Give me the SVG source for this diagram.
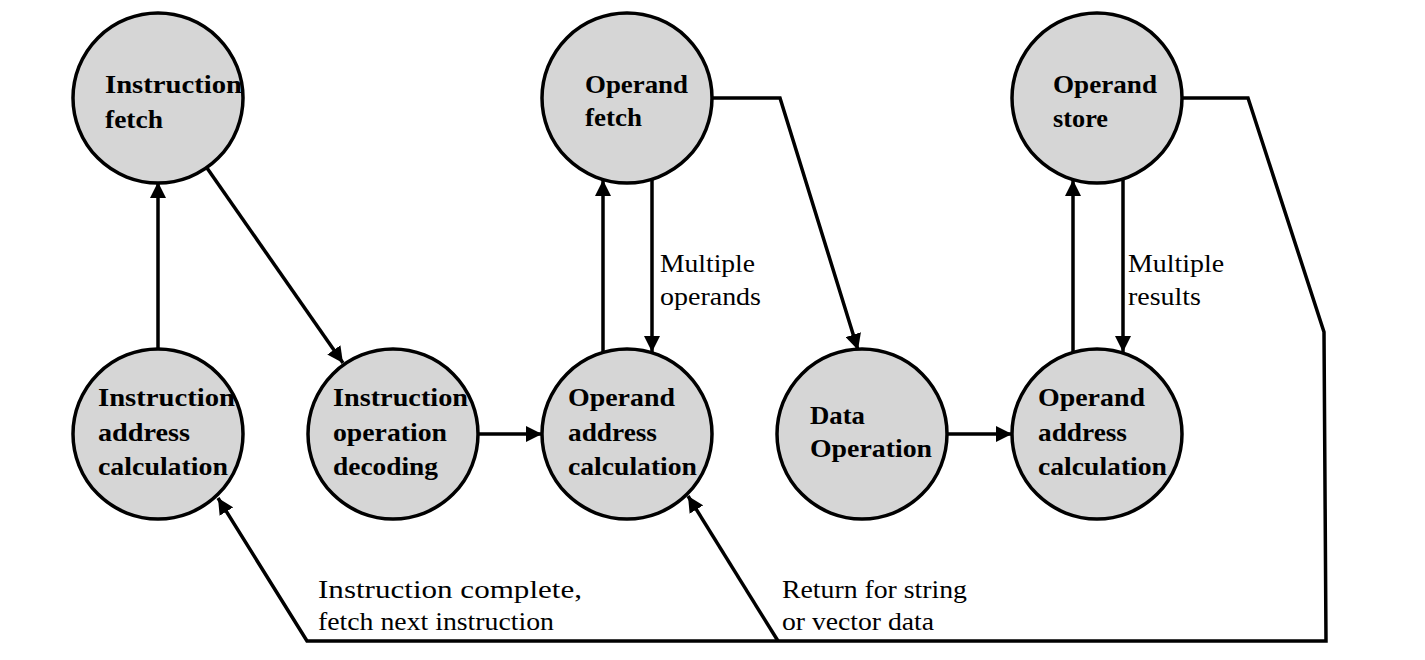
<svg xmlns="http://www.w3.org/2000/svg" width="1425" height="660" viewBox="0 0 1425 660">
<style>
.node circle{fill:#d6d6d6;stroke:#000;stroke-width:3.5}
.node text{font-family:"Liberation Serif",serif;font-weight:bold;font-size:26px;fill:#000}
.conn path{fill:none;stroke:#000;stroke-width:3.5;stroke-linejoin:miter}
.lbl{font-family:"Liberation Serif",serif;font-size:25px;fill:#000}
</style>
<defs>
<marker id="ah" markerUnits="userSpaceOnUse" markerWidth="16" markerHeight="16" refX="16" refY="8" orient="auto">
<path d="M0,0 L16,8 L0,16 z" fill="#000"/>
</marker>
</defs>
<rect width="1425" height="660" fill="#fff"/>
<g class="conn" id="connectors">
<path d="M158,350 L158,182" marker-end="url(#ah)"/>
<path d="M207,168 L343,363" marker-end="url(#ah)"/>
<path d="M478,434 L542,434" marker-end="url(#ah)"/>
<path d="M603,352 L603,180" marker-end="url(#ah)"/>
<path d="M652,180 L652,352" marker-end="url(#ah)"/>
<path d="M712,98 L780,98 L858,350" marker-end="url(#ah)"/>
<path d="M947,434 L1012,434" marker-end="url(#ah)"/>
<path d="M1073,352 L1073,180" marker-end="url(#ah)"/>
<path d="M1123,180 L1123,352" marker-end="url(#ah)"/>
<path d="M1182,98 L1248,98 L1324,332 L1326,641 L307,641 L218,498" marker-end="url(#ah)"/>
<path d="M778,641 L688,496" marker-end="url(#ah)"/>
</g>
<g class="node" id="n-ifetch">
<circle cx="158" cy="98" r="85"/>
<text x="105" y="93" textLength="137" lengthAdjust="spacingAndGlyphs">Instruction</text>
<text x="105" y="128" textLength="58" lengthAdjust="spacingAndGlyphs">fetch</text>
</g>
<g class="node" id="n-iaddr">
<circle cx="158" cy="434" r="85"/>
<text x="98" y="406" textLength="137" lengthAdjust="spacingAndGlyphs">Instruction</text>
<text x="98" y="441" textLength="92" lengthAdjust="spacingAndGlyphs">address</text>
<text x="98" y="475" textLength="130" lengthAdjust="spacingAndGlyphs">calculation</text>
</g>
<g class="node" id="n-idecode">
<circle cx="393" cy="434" r="85"/>
<text x="333" y="406" textLength="135" lengthAdjust="spacingAndGlyphs">Instruction</text>
<text x="333" y="441" textLength="114" lengthAdjust="spacingAndGlyphs">operation</text>
<text x="333" y="475" textLength="105" lengthAdjust="spacingAndGlyphs">decoding</text>
</g>
<g class="node" id="n-ofetch">
<circle cx="627" cy="98" r="85"/>
<text x="585" y="93" textLength="103" lengthAdjust="spacingAndGlyphs">Operand</text>
<text x="585" y="126" textLength="57" lengthAdjust="spacingAndGlyphs">fetch</text>
</g>
<g class="node" id="n-oaddr1">
<circle cx="627" cy="434" r="85"/>
<text x="568" y="406" textLength="107" lengthAdjust="spacingAndGlyphs">Operand</text>
<text x="568" y="441" textLength="89" lengthAdjust="spacingAndGlyphs">address</text>
<text x="568" y="475" textLength="129" lengthAdjust="spacingAndGlyphs">calculation</text>
</g>
<g class="node" id="n-dataop">
<circle cx="862" cy="434" r="85"/>
<text x="810" y="424" textLength="55" lengthAdjust="spacingAndGlyphs">Data</text>
<text x="810" y="457" textLength="122" lengthAdjust="spacingAndGlyphs">Operation</text>
</g>
<g class="node" id="n-ostore">
<circle cx="1097" cy="98" r="85"/>
<text x="1053" y="93" textLength="104" lengthAdjust="spacingAndGlyphs">Operand</text>
<text x="1053" y="127" textLength="55" lengthAdjust="spacingAndGlyphs">store</text>
</g>
<g class="node" id="n-oaddr2">
<circle cx="1097" cy="434" r="85"/>
<text x="1038" y="406" textLength="107" lengthAdjust="spacingAndGlyphs">Operand</text>
<text x="1038" y="441" textLength="89" lengthAdjust="spacingAndGlyphs">address</text>
<text x="1038" y="475" textLength="129" lengthAdjust="spacingAndGlyphs">calculation</text>
</g>
<g id="labels">
<text class="lbl" x="660" y="272" textLength="95" lengthAdjust="spacingAndGlyphs">Multiple</text>
<text class="lbl" x="660" y="305" textLength="101" lengthAdjust="spacingAndGlyphs">operands</text>
<text class="lbl" x="1128" y="272" textLength="96" lengthAdjust="spacingAndGlyphs">Multiple</text>
<text class="lbl" x="1128" y="305" textLength="73" lengthAdjust="spacingAndGlyphs">results</text>
<text class="lbl" x="318" y="598" textLength="264" lengthAdjust="spacingAndGlyphs">Instruction complete,</text>
<text class="lbl" x="318" y="630" textLength="236" lengthAdjust="spacingAndGlyphs">fetch next instruction</text>
<text class="lbl" x="782" y="598" textLength="185" lengthAdjust="spacingAndGlyphs">Return for string</text>
<text class="lbl" x="782" y="630" textLength="152" lengthAdjust="spacingAndGlyphs">or vector data</text>
</g>
</svg>
